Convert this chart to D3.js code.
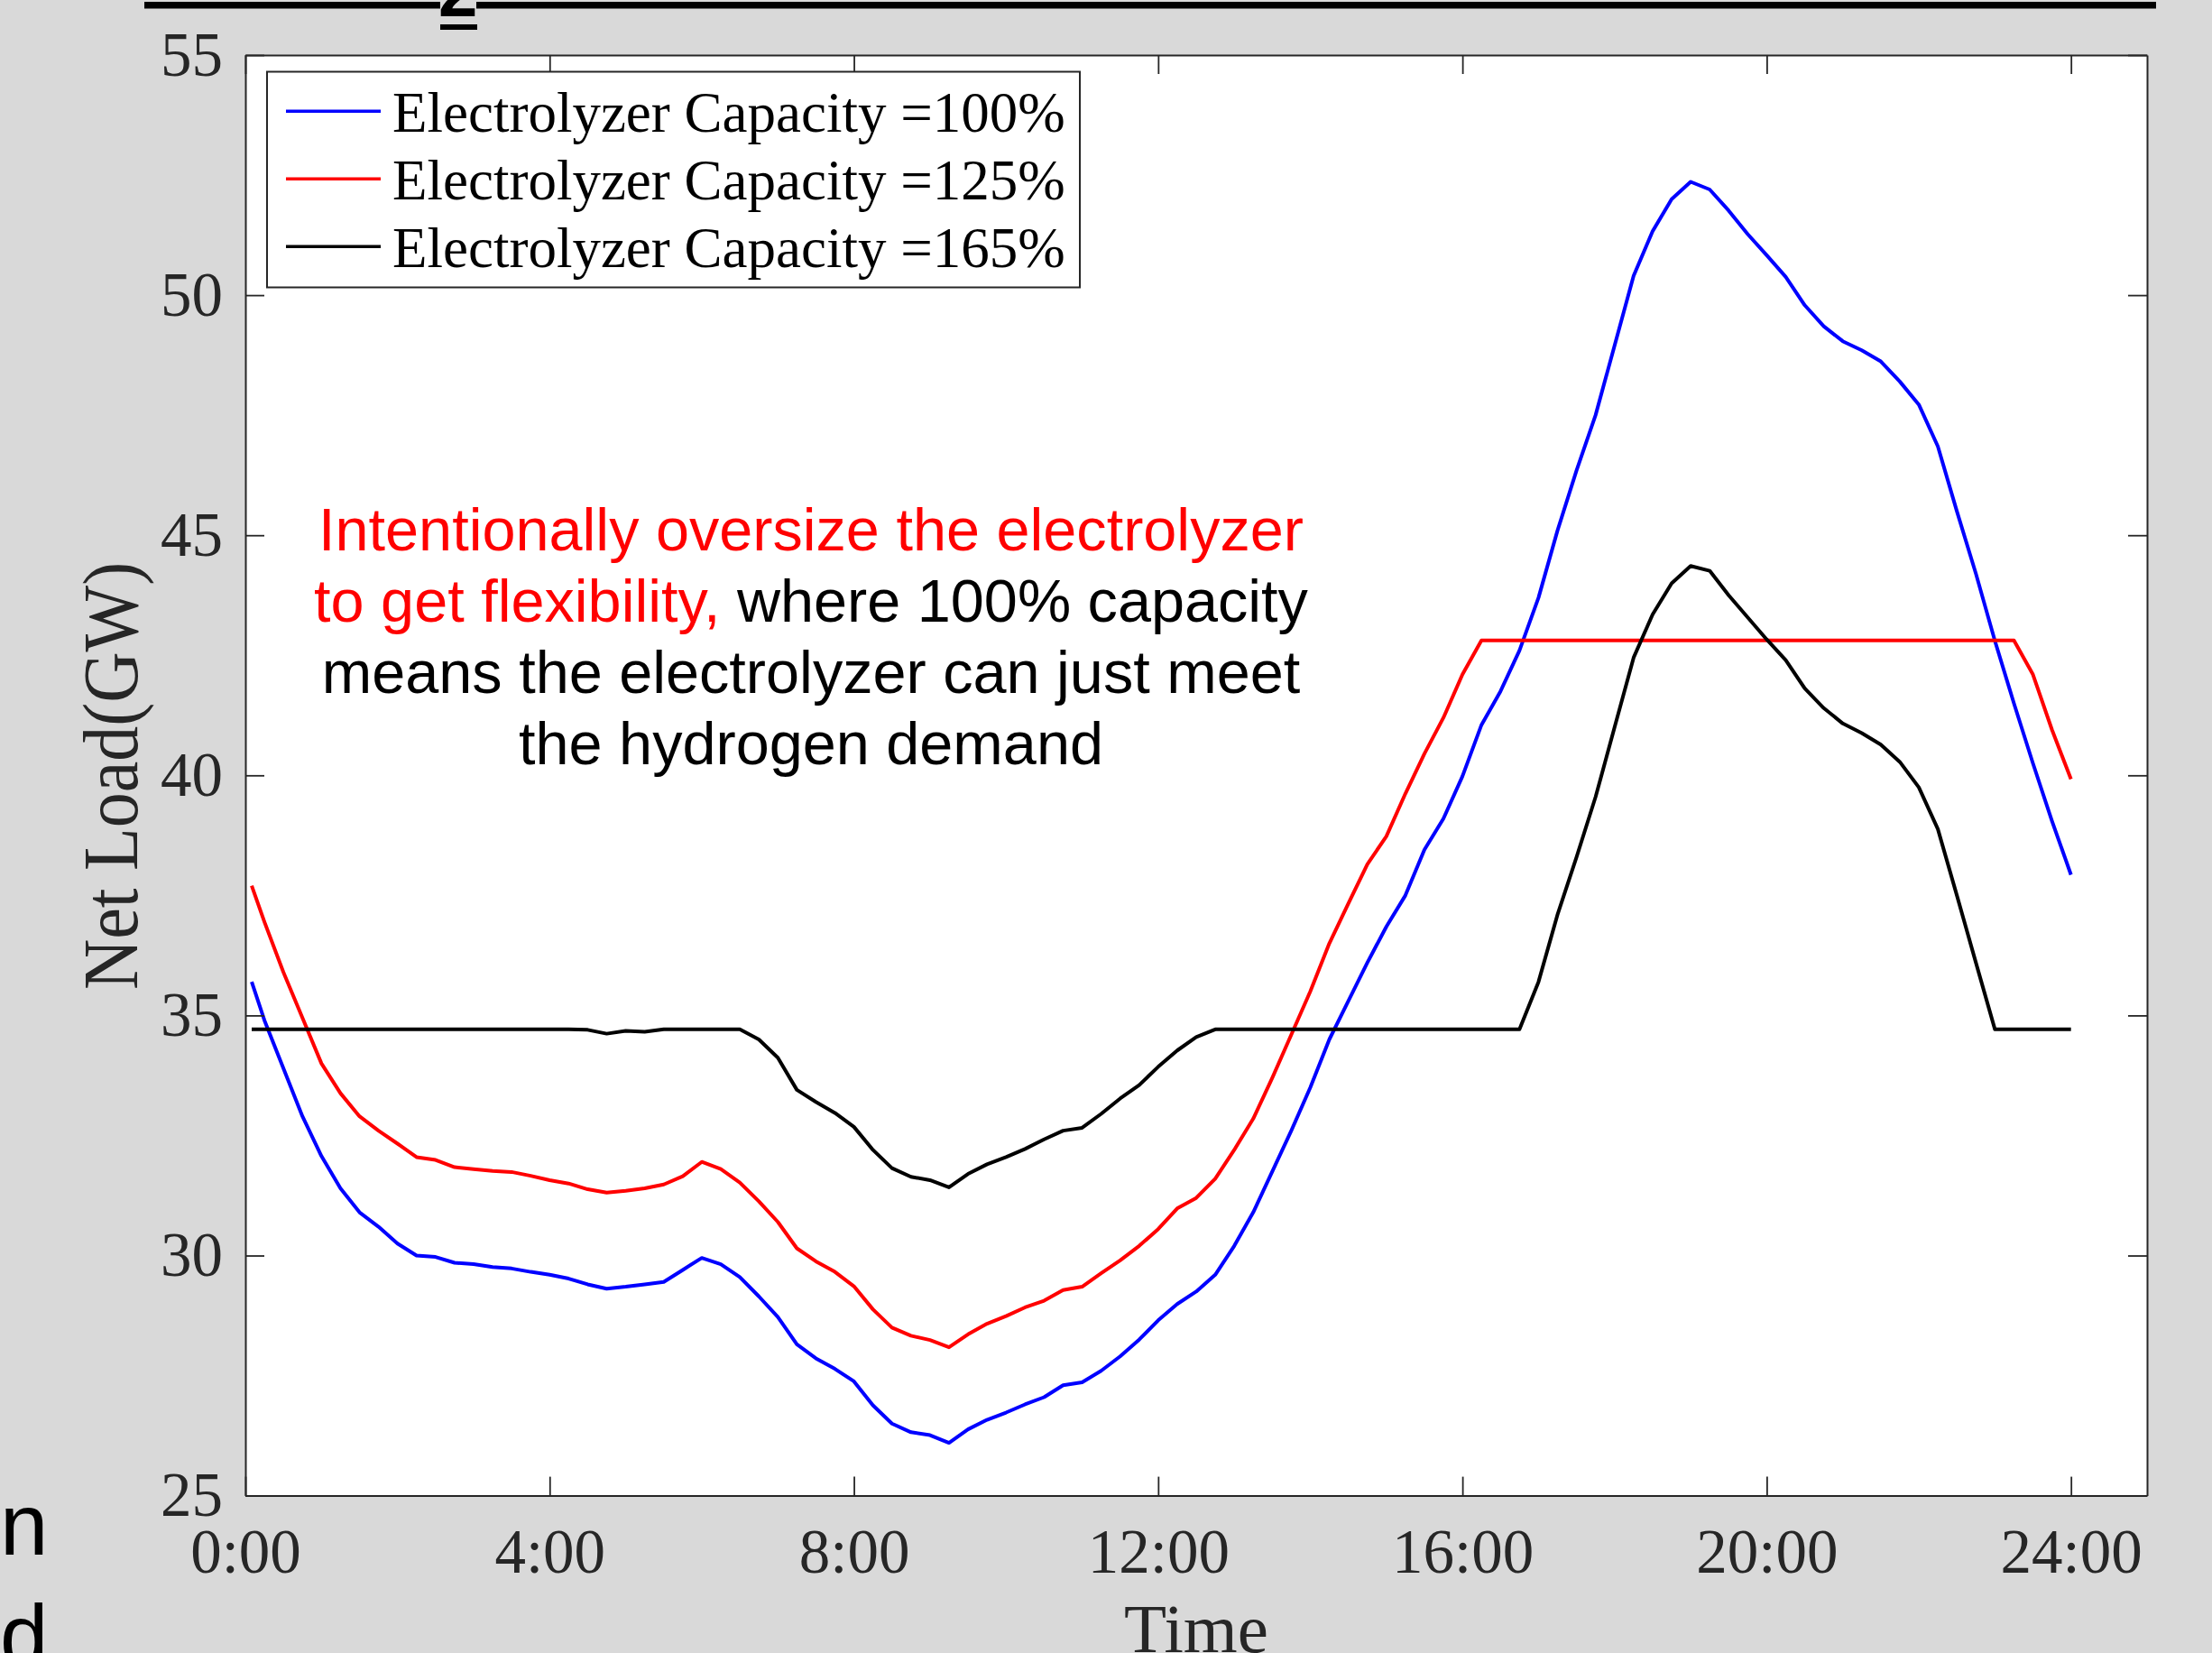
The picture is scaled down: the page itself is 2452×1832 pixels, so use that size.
<!DOCTYPE html>
<html>
<head>
<meta charset="utf-8">
<script src="https://cdn.jsdelivr.net/npm/d3@7"></script>
<style>
  html, body { margin: 0; padding: 0; background: #d9d9d9; }
  svg { display: block; }
</style>
</head>
<body>
<svg id="chart" width="2452" height="1832"></svg>
<script>
// Time of day in hours (0:05, then every 15 minutes up to 24:00)
const hours = [
  0.083, 0.25, 0.5, 0.75, 1, 1.25, 1.5, 1.75, 2, 2.25, 2.5, 2.75,
  3, 3.25, 3.5, 3.75, 4, 4.25, 4.5, 4.75, 5, 5.25, 5.5, 5.75,
  6, 6.25, 6.5, 6.75, 7, 7.25, 7.5, 7.75, 8, 8.25, 8.5, 8.75,
  9, 9.25, 9.5, 9.75, 10, 10.25, 10.5, 10.75, 11, 11.25, 11.5, 11.75,
  12, 12.25, 12.5, 12.75, 13, 13.25, 13.5, 13.75, 14, 14.25, 14.5, 14.75,
  15, 15.25, 15.5, 15.75, 16, 16.25, 16.5, 16.75, 17, 17.25, 17.5, 17.75,
  18, 18.25, 18.5, 18.75, 19, 19.25, 19.5, 19.75, 20, 20.25, 20.5, 20.75,
  21, 21.25, 21.5, 21.75, 22, 22.25, 22.5, 22.75, 23, 23.25, 23.5, 23.75, 24
];

// Net load (GW) with electrolyzer capacity = 100%
const load100 = [
  35.70, 34.90, 33.90, 32.90, 32.07, 31.40, 30.90, 30.60, 30.25, 30.00, 29.97, 29.85,
  29.82, 29.76, 29.73, 29.66, 29.60, 29.52, 29.40, 29.31, 29.35, 29.40, 29.45, 29.70,
  29.95, 29.82, 29.55, 29.15, 28.72, 28.15, 27.86, 27.64, 27.38, 26.88, 26.50, 26.32,
  26.26, 26.10, 26.38, 26.58, 26.73, 26.90, 27.05, 27.30, 27.36, 27.60, 27.90, 28.25,
  28.65, 28.99, 29.25, 29.60, 30.20, 30.90, 31.75, 32.60, 33.50, 34.50, 35.30, 36.10,
  36.85, 37.50, 38.45, 39.10, 39.98, 41.05, 41.75, 42.60, 43.70, 45.10, 46.35, 47.50,
  48.95, 50.40, 51.33, 52.00, 52.36, 52.20, 51.76, 51.27, 50.83, 50.38, 49.79, 49.35,
  49.04, 48.85, 48.62, 48.20, 47.72, 46.85, 45.50, 44.20, 42.80, 41.50, 40.25, 39.05, 37.93
];

// Net load (GW) with electrolyzer capacity = 125%
const load125 = [
  37.70, 36.95, 35.90, 34.95, 34.00, 33.38, 32.90, 32.60, 32.33, 32.05, 31.99, 31.84,
  31.80, 31.76, 31.74, 31.66, 31.57, 31.50, 31.38, 31.31, 31.35, 31.40, 31.48, 31.65,
  31.95, 31.80, 31.52, 31.13, 30.70, 30.15, 29.88, 29.66, 29.36, 28.88, 28.50, 28.33,
  28.24, 28.09, 28.36, 28.58, 28.74, 28.92, 29.06, 29.28, 29.35, 29.63, 29.90, 30.20,
  30.55, 30.98, 31.20, 31.60, 32.20, 32.85, 33.70, 34.60, 35.50, 36.50, 37.33, 38.15,
  38.73, 39.62, 40.45, 41.20, 42.10, 42.81, 42.81, 42.81, 42.81, 42.81, 42.81, 42.81,
  42.81, 42.81, 42.81, 42.81, 42.81, 42.81, 42.81, 42.81, 42.81, 42.81, 42.81, 42.81,
  42.81, 42.81, 42.81, 42.81, 42.81, 42.81, 42.81, 42.81, 42.81, 42.81, 42.10, 40.95, 39.92
];

// Net load (GW) with electrolyzer capacity = 165%
const load165 = [
  34.71, 34.71, 34.71, 34.71, 34.71, 34.71, 34.71, 34.71, 34.71, 34.71, 34.71, 34.71,
  34.71, 34.71, 34.71, 34.71, 34.71, 34.71, 34.70, 34.62, 34.68, 34.66, 34.71, 34.71,
  34.71, 34.71, 34.71, 34.50, 34.12, 33.45, 33.20, 32.97, 32.68, 32.20, 31.82, 31.64,
  31.57, 31.42, 31.70, 31.90, 32.05, 32.22, 32.42, 32.60, 32.66, 32.95, 33.27, 33.55,
  33.93, 34.27, 34.55, 34.71, 34.71, 34.71, 34.71, 34.71, 34.71, 34.71, 34.71, 34.71,
  34.71, 34.71, 34.71, 34.71, 34.71, 34.71, 34.71, 34.71, 35.70, 37.10, 38.30, 39.55,
  41.00, 42.45, 43.35, 44.00, 44.36, 44.26, 43.75, 43.29, 42.83, 42.40, 41.81, 41.40,
  41.08, 40.88, 40.64, 40.28, 39.75, 38.88, 37.50, 36.10, 34.71, 34.71, 34.71, 34.71, 34.71
];

const seriesNames = [
  "Electrolyzer Capacity =100%",
  "Electrolyzer Capacity =125%",
  "Electrolyzer Capacity =165%"
];
const seriesColors = ["#0000ff", "#ff0000", "#000000"];
const seriesValues = [load100, load125, load165];

const hourTicks = [0, 4, 8, 12, 16, 20, 24];
const loadTicks = [25, 30, 35, 40, 45, 50, 55];

const noteLines = [
  [{ text: "Intentionally oversize the electrolyzer", color: "#ff0000" }],
  [{ text: "to get flexibility,", color: "#ff0000" }, { text: " where 100% capacity", color: "#000000" }],
  [{ text: "means the electrolyzer can just meet", color: "#000000" }],
  [{ text: "the hydrogen demand", color: "#000000" }]
];

const svg = d3.select("#chart");
const axisColor = "#262626";
const serif = "'Liberation Serif', 'Times New Roman', serif";
const sans = "'Liberation Sans', Arial, sans-serif";

// Plot frame
const plotLeft = 272, plotRight = 2380, plotTop = 61, plotBottom = 1657.6;
const x = d3.scaleLinear().domain([0, 25]).range([plotLeft, plotRight]);
const y = d3.scaleLinear().domain([25, 55]).range([plotBottom, plotTop]);

// Underlined heading fragment running along the top edge
svg.append("rect").attr("x", 160).attr("y", 2).attr("width", 328).attr("height", 7.5).attr("fill", "#000");
svg.append("rect").attr("x", 528).attr("y", 2).attr("width", 1862).attr("height", 7.5).attr("fill", "#000");
svg.append("text").attr("x", 486).attr("y", 18)
  .attr("font-family", sans).attr("font-weight", "bold").attr("font-size", 78)
  .attr("fill", "#000").text("2");
svg.append("rect").attr("x", 488).attr("y", 27).attr("width", 41).attr("height", 6).attr("fill", "#000");

// Side text fragments at bottom-left
svg.append("text").attr("x", 0).attr("y", 1723)
  .attr("font-family", sans).attr("font-size", 96).attr("fill", "#000").text("n");
svg.append("text").attr("x", 0).attr("y", 1846)
  .attr("font-family", sans).attr("font-size", 96).attr("fill", "#000").text("d");

// White plotting area
svg.append("rect").attr("x", plotLeft).attr("y", plotTop)
  .attr("width", plotRight - plotLeft).attr("height", plotBottom - plotTop).attr("fill", "#ffffff");

// Data lines
const line = d3.line().x((d, i) => x(hours[i])).y(d => y(d));
const linesG = svg.append("g");
seriesValues.forEach((vals, k) => {
  linesG.append("path")
    .datum(vals)
    .attr("d", line)
    .attr("fill", "none")
    .attr("stroke", seriesColors[k])
    .attr("stroke-width", 4)
    .attr("stroke-linejoin", "round");
});

// Axes (ticks point inward on all four sides)
const tickLen = 21;
function styleAxis(g) {
  g.select(".domain").attr("stroke", axisColor).attr("stroke-width", 2);
  g.selectAll(".tick line").attr("stroke", axisColor).attr("stroke-width", 1.8);
  g.selectAll(".tick text").attr("fill", axisColor).attr("font-family", serif).attr("font-size", 69);
}
svg.append("g").attr("transform", `translate(0,${plotBottom})`)
  .call(d3.axisBottom(x).tickValues(hourTicks).tickFormat(h => h + ":00")
    .tickSizeInner(-tickLen).tickSizeOuter(0).tickPadding(36))
  .call(styleAxis);
svg.append("g").attr("transform", `translate(0,${plotTop})`)
  .call(d3.axisTop(x).tickValues(hourTicks).tickFormat("")
    .tickSizeInner(-tickLen).tickSizeOuter(0))
  .call(styleAxis);
svg.append("g").attr("transform", `translate(${plotLeft},0)`)
  .call(d3.axisLeft(y).tickValues(loadTicks).tickFormat(d3.format("d"))
    .tickSizeInner(-tickLen).tickSizeOuter(0).tickPadding(25))
  .call(styleAxis);
svg.append("g").attr("transform", `translate(${plotRight},0)`)
  .call(d3.axisRight(y).tickValues(loadTicks).tickFormat("")
    .tickSizeInner(-tickLen).tickSizeOuter(0))
  .call(styleAxis);

// Axis titles
svg.append("text")
  .attr("transform", "translate(152,860) rotate(-90) scale(1,1.1)")
  .attr("text-anchor", "middle")
  .attr("font-family", serif).attr("font-size", 78).attr("fill", axisColor)
  .text("Net Load(GW)");
svg.append("text")
  .attr("x", (plotLeft + plotRight) / 2).attr("y", 1831)
  .attr("text-anchor", "middle")
  .attr("font-family", serif).attr("font-size", 77).attr("fill", axisColor)
  .text("Time");

// Annotation
const note = svg.append("text")
  .attr("text-anchor", "middle")
  .attr("font-family", sans).attr("font-size", 66.6);
noteLines.forEach((parts, i) => {
  const row = note.append("tspan").attr("x", 899).attr("y", 610 + i * 79);
  parts.forEach(p => row.append("tspan").attr("fill", p.color).text(p.text));
});

// Legend
const legend = svg.append("g");
legend.append("rect")
  .attr("x", 296).attr("y", 79.5).attr("width", 901).attr("height", 239)
  .attr("fill", "#ffffff").attr("stroke", axisColor).attr("stroke-width", 2);
seriesNames.forEach((name, k) => {
  const ly = 123.3 + k * 75;
  legend.append("line")
    .attr("x1", 317).attr("x2", 422).attr("y1", ly).attr("y2", ly)
    .attr("stroke", seriesColors[k]).attr("stroke-width", 3.5);
  legend.append("text")
    .attr("x", 435).attr("y", ly + 22.7)
    .attr("font-family", serif).attr("font-size", 63).attr("fill", "#000")
    .text(name);
});
</script>
</body>
</html>
